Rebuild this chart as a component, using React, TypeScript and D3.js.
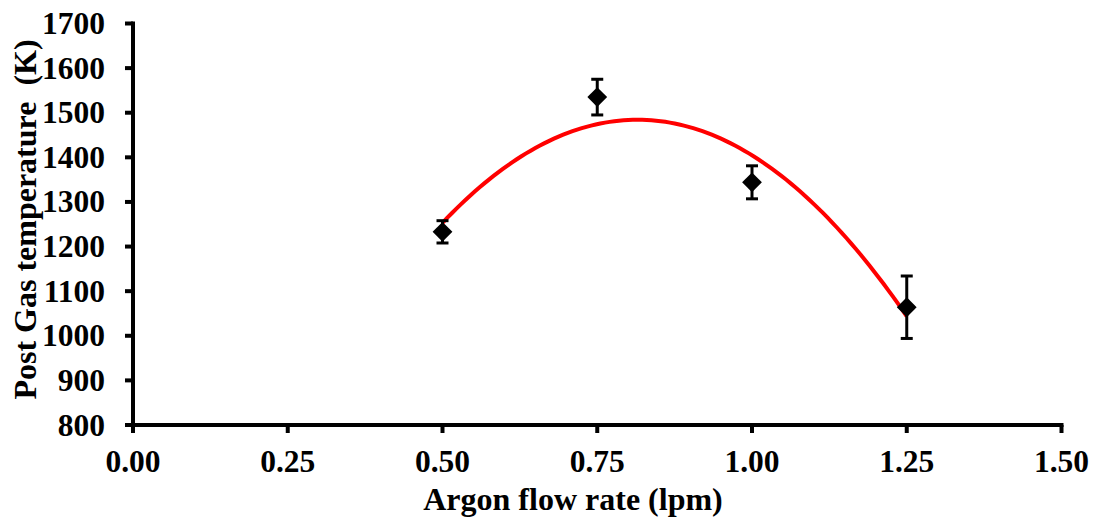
import React from "react";
import * as d3 from "d3";

// Argon flow rate (lpm) and post gas temperature (K) with standard deviations
const flowRates = [0.5, 0.75, 1.0, 1.25];
const temperatures = [1233, 1535, 1344, 1064];
const errors = [25, 40, 37, 70];
const xTicks = [0, 0.25, 0.5, 0.75, 1.0, 1.25, 1.5];
const yTicks = [800, 900, 1000, 1100, 1200, 1300, 1400, 1500, 1600, 1700];

const W = 1100;
const H = 519;
const FONT = "'Liberation Serif', 'Times New Roman', serif";

// Least-squares second-order polynomial fit (trendline)
function quadFit(xs: number[], ys: number[]) {
  const n = xs.length;
  let s1 = 0, s2 = 0, s3 = 0, s4 = 0, sy = 0, sxy = 0, sx2y = 0;
  for (let i = 0; i < n; i++) {
    const x = xs[i], y = ys[i];
    s1 += x; s2 += x * x; s3 += x * x * x; s4 += x * x * x * x;
    sy += y; sxy += x * y; sx2y += x * x * y;
  }
  // Solve 3x3 normal equations by Cramer's rule
  const A = [
    [n, s1, s2],
    [s1, s2, s3],
    [s2, s3, s4],
  ];
  const B = [sy, sxy, sx2y];
  const det = (m: number[][]) =>
    m[0][0] * (m[1][1] * m[2][2] - m[1][2] * m[2][1]) -
    m[0][1] * (m[1][0] * m[2][2] - m[1][2] * m[2][0]) +
    m[0][2] * (m[1][0] * m[2][1] - m[1][1] * m[2][0]);
  const D = det(A);
  const coef = [0, 1, 2].map((k) => {
    const M = A.map((row, r) => row.map((v, c) => (c === k ? B[r] : v)));
    return det(M) / D;
  });
  return (x: number) => coef[0] + coef[1] * x + coef[2] * x * x;
}

export default function App() {
  const x = d3.scaleLinear().domain([0, 1.5]).range([133, 1061.5]);
  const y = d3.scaleLinear().domain([800, 1700]).range([425, 23.5]);

  const fit = quadFit(flowRates, temperatures);
  const xMin = d3.min(flowRates) as number;
  const xMax = d3.max(flowRates) as number;
  const curvePts: [number, number][] = d3
    .range(0, 101)
    .map((i) => {
      const xv = xMin + ((xMax - xMin) * i) / 100;
      return [x(xv), y(fit(xv))];
    });
  const line = d3.line().curve(d3.curveLinear);

  const diamond = d3.symbol().type(d3.symbolDiamond2).size(250);

  return (
    <svg
      width={W}
      height={H}
      style={{ position: "absolute", left: 0, top: 0, background: "#fff" }}
      fontFamily={FONT}
      fontWeight="bold"
    >
      {/* trendline */}
      <path d={line(curvePts) || ""} fill="none" stroke="#ff0000" strokeWidth={4} />

      {/* error bars */}
      {flowRates.map((fr, i) => {
        const cx = x(fr);
        const top = y(temperatures[i] + errors[i]);
        const bot = y(temperatures[i] - errors[i]);
        return (
          <g key={"e" + i} stroke="#000" strokeWidth={3}>
            <line x1={cx} x2={cx} y1={top} y2={bot} />
            <line x1={cx - 6} x2={cx + 6} y1={top} y2={top} />
            <line x1={cx - 6} x2={cx + 6} y1={bot} y2={bot} />
          </g>
        );
      })}

      {/* markers */}
      {flowRates.map((fr, i) => (
        <path
          key={"m" + i}
          d={diamond() || ""}
          transform={`translate(${x(fr)},${y(temperatures[i])})`}
          fill="#000"
        />
      ))}

      {/* axes */}
      <line x1={x(0) - 2} x2={x(1.5) + 2} y1={y(800)} y2={y(800)} stroke="#000" strokeWidth={4} />
      <line x1={x(0)} x2={x(0)} y1={y(800) + 2} y2={y(1700) - 2} stroke="#000" strokeWidth={4} />

      {xTicks.map((t) => (
        <g key={"xt" + t}>
          <line x1={x(t)} x2={x(t)} y1={y(800)} y2={y(800) + 8} stroke="#000" strokeWidth={4} />
          <text x={x(t)} y={472} textAnchor="middle" fontSize={31.5}>
            {d3.format(".2f")(t)}
          </text>
        </g>
      ))}

      {yTicks.map((t) => (
        <g key={"yt" + t}>
          <line x1={x(0) - 8} x2={x(0)} y1={y(t)} y2={y(t)} stroke="#000" strokeWidth={4} />
          <text x={105} y={y(t) + 10.5} textAnchor="end" fontSize={31.5}>
            {t}
          </text>
        </g>
      ))}

      <text x={573} y={510} textAnchor="middle" fontSize={32}>
        Argon flow rate (lpm)
      </text>
      <text
        transform={`translate(36,${219.5}) rotate(-90)`}
        textAnchor="middle"
        fontSize={32}
        style={{ whiteSpace: "pre" }}
      >
        {"Post Gas temperature  (K)"}
      </text>
    </svg>
  );
}
